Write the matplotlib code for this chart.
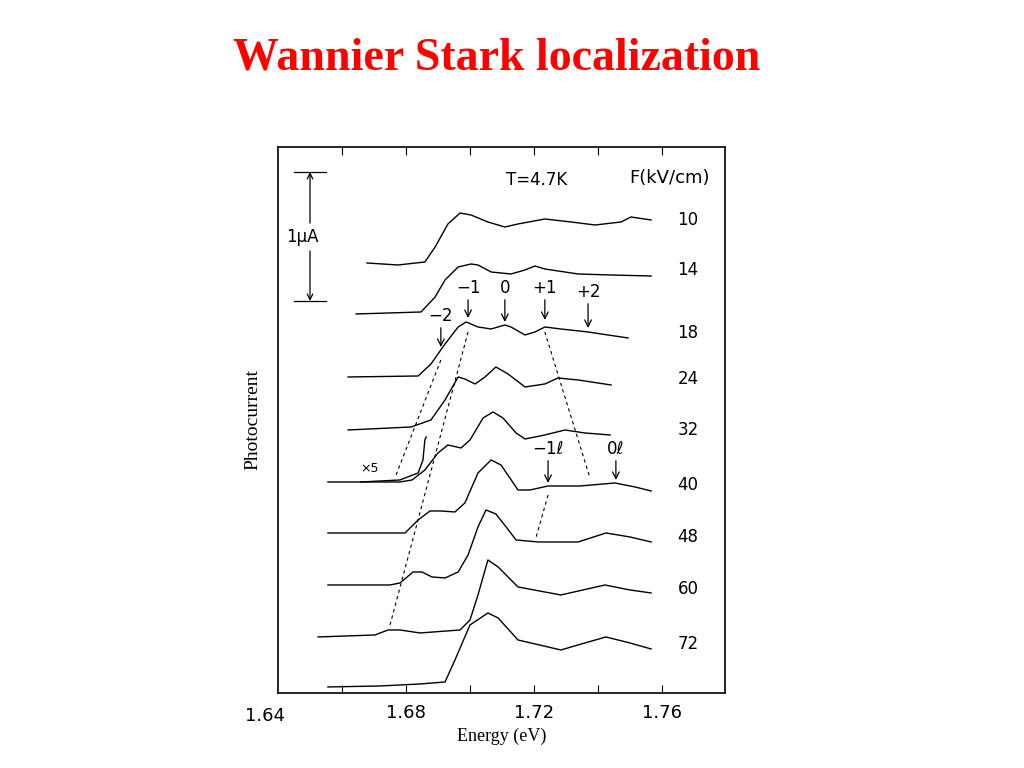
import matplotlib
matplotlib.use("Agg")
import matplotlib.pyplot as plt

# photocurrent spectra, energy (eV) vs photocurrent (arb. units, 129 units = 1 uA)
FIELDS = ["10", "14", "18", "24", "32", "40", "48", "60", "72"]
FIELD_LABEL_Y = [473, 423, 360, 314, 263, 208, 156, 104, 49]

E10 = [1.6678, 1.6775, 1.6859, 1.6891, 1.6931, 1.6969, 1.7003, 1.7056, 1.7109, 1.7150, 1.7234, 1.7316, 1.7391, 1.7472, 1.7503, 1.7566]
I10 = [430, 428, 431, 446, 469, 480, 478, 471, 466, 469, 474, 471, 468, 471, 476, 473]
E14 = [1.6644, 1.6847, 1.6891, 1.6922, 1.6963, 1.7003, 1.7025, 1.7066, 1.7128, 1.7172, 1.7203, 1.7234, 1.7338, 1.7441, 1.7566]
I14 = [379, 381, 396, 413, 426, 429, 428, 421, 419, 423, 427, 424, 419, 418, 417]
E18 = [1.6619, 1.6838, 1.6878, 1.6922, 1.6963, 1.6988, 1.7025, 1.7066, 1.7109, 1.7128, 1.7172, 1.7203, 1.7234, 1.7284, 1.7369, 1.7494]
I18 = [316, 317, 329, 349, 366, 371, 366, 364, 368, 366, 358, 361, 366, 364, 361, 355]
E24 = [1.6619, 1.6816, 1.6878, 1.6922, 1.6963, 1.6984, 1.7016, 1.7047, 1.7081, 1.7119, 1.7172, 1.7234, 1.7275, 1.7338, 1.7441]
I24 = [263, 266, 273, 293, 316, 314, 309, 316, 326, 319, 306, 309, 315, 313, 308]
E32 = [1.6556, 1.6781, 1.6819, 1.6859, 1.6900, 1.6931, 1.6972, 1.7000, 1.7041, 1.7072, 1.7103, 1.7144, 1.7172, 1.7234, 1.7297, 1.7359, 1.7438]
I32 = [211, 211, 213, 223, 240, 248, 245, 253, 275, 281, 275, 260, 254, 258, 263, 260, 258]
E32X5 = [1.6659, 1.6781, 1.6838, 1.6853, 1.6859, 1.6863]
I32X5 = [211, 213, 220, 233, 253, 256]
E40 = [1.6556, 1.6797, 1.6838, 1.6875, 1.6909, 1.6953, 1.6984, 1.7025, 1.7066, 1.7097, 1.7150, 1.7188, 1.7244, 1.7344, 1.7453, 1.7516, 1.7566]
I40 = [160, 160, 173, 182, 182, 181, 190, 220, 233, 228, 203, 203, 207, 207, 210, 206, 202]
E48 = [1.6556, 1.6750, 1.6781, 1.6800, 1.6822, 1.6850, 1.6881, 1.6922, 1.6963, 1.6994, 1.7025, 1.7050, 1.7081, 1.7113, 1.7144, 1.7213, 1.7338, 1.7425, 1.7500, 1.7566]
I48 = [108, 108, 110, 115, 121, 121, 116, 115, 121, 138, 166, 183, 179, 166, 153, 151, 151, 160, 156, 151]
E60 = [1.6525, 1.6703, 1.6744, 1.6781, 1.6844, 1.6969, 1.7000, 1.7025, 1.7056, 1.7088, 1.7150, 1.7284, 1.7422, 1.7500, 1.7566]
I60 = [56, 58, 63, 63, 60, 63, 73, 98, 133, 126, 106, 98, 108, 103, 100]
E72 = [1.6556, 1.6719, 1.6844, 1.6922, 1.6953, 1.7000, 1.7056, 1.7088, 1.7150, 1.7284, 1.7359, 1.7425, 1.7500, 1.7566]
I72 = [6, 7, 9, 11, 33, 68, 80, 75, 53, 43, 50, 56, 50, 44]

SPECTRA = [(E10, I10), (E14, I14), (E18, I18), (E24, I24), (E32, I32),
           (E40, I40), (E48, I48), (E60, I60), (E72, I72)]

# Stark-ladder guide lines (dashed)
GUIDES = [
    ([1.6909, 1.6769], [333, 218]),
    ([1.6994, 1.6750], [361, 68]),
    ([1.7234, 1.7375], [361, 215]),
    ([1.7244, 1.7206], [198, 155]),
]
# peak markers: label, energy, text height, arrow tip height
MARKERS = [
    ("\u22122", 1.6909, 368, 346),
    ("\u22121", 1.6994, 396, 375),
    ("0", 1.7109, 396, 371),
    ("+1", 1.7234, 396, 373),
    ("+2", 1.7369, 392, 365),
    ("\u22121\u2113", 1.7244, 235, 210),
    ("0\u2113", 1.7456, 235, 213),
]

fig = plt.figure(figsize=(10.24, 7.68), dpi=100)
ax = fig.add_axes([0.2715, 0.0977, 0.4365, 0.7109])
ax.set_xlim(1.64, 1.7797)
ax.set_ylim(0, 546)

for e, i in SPECTRA:
    ax.plot(e, i, color="black", lw=1.0)
ax.plot(E32X5, I32X5, color="black", lw=1.0)
ax.text(1.6685, 224, "\u00d75", fontsize=9, ha="center", va="center")

for e, i in GUIDES:
    ax.plot(e, i, color="black", lw=0.8, ls=(0, (3, 3)))

for lab, e, ty, tip in MARKERS:
    ax.annotate(lab, xy=(e, tip), xytext=(e, ty), ha="center", va="bottom",
                fontsize=12, arrowprops=dict(arrowstyle="->", lw=0.9, color="black",
                                             shrinkA=0, shrinkB=0))

for lab, y in zip(FIELDS, FIELD_LABEL_Y):
    ax.text(1.7681, y, lab, fontsize=12, ha="center", va="center")

# 1 uA scale bar
ax.annotate("", xy=(1.65, 521), xytext=(1.65, 456),
            arrowprops=dict(arrowstyle="->", lw=0.9, shrinkA=10, shrinkB=0))
ax.annotate("", xy=(1.65, 392), xytext=(1.65, 456),
            arrowprops=dict(arrowstyle="->", lw=0.9, shrinkA=10, shrinkB=0))
ax.plot([1.645, 1.655], [521, 521], color="black", lw=0.9)
ax.plot([1.645, 1.655], [392, 392], color="black", lw=0.9)
ax.text(1.6475, 456, "1\u03bcA", fontsize=12, ha="center", va="center",
        bbox=dict(facecolor="white", edgecolor="none", pad=1))

ax.text(1.7209, 513, "T=4.7K", fontsize=12, ha="center", va="center")
ax.text(1.7625, 515, "F(kV/cm)", fontsize=13, ha="center", va="center")

ax.set_xticks([1.66, 1.68, 1.70, 1.72, 1.74, 1.76])
ax.set_xticklabels(["", "1.68", "", "1.72", "", "1.76"], fontsize=13)
ax.text(1.636, -14, "1.64", fontsize=13, ha="center", va="top")
ax.tick_params(axis="x", direction="in", length=6, top=True, pad=8)
ax.set_yticks([])
for s in ax.spines.values():
    s.set_linewidth(1.2)

ax.set_xlabel("Energy (eV)", fontfamily="Liberation Serif", fontsize=13, labelpad=4)
ax.set_ylabel("Photocurrent", fontfamily="Liberation Serif", fontsize=14, labelpad=12)

fig.text(0.485, 0.924, "Wannier Stark localization", color="red", ha="center",
         va="center", fontsize=33, fontweight="bold", fontfamily="Liberation Serif")

fig.savefig("out.png", dpi=100)
